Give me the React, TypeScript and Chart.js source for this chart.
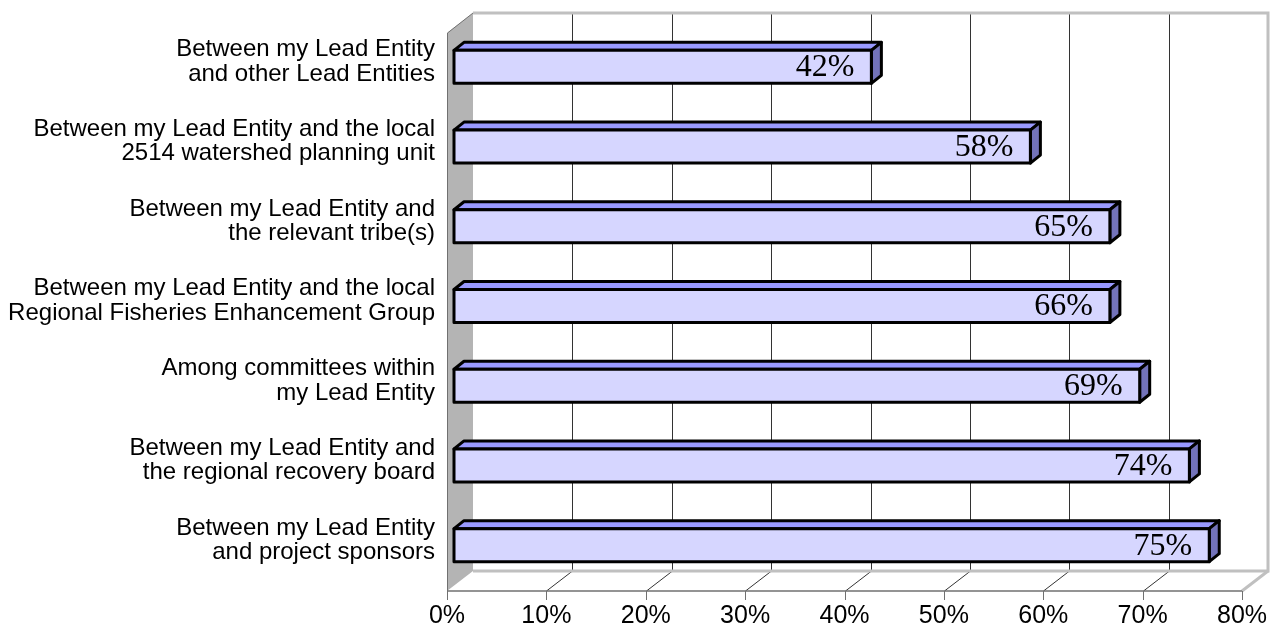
import React, { useEffect, useRef } from "react";
import { Chart, registerables } from "chart.js";

Chart.register(...registerables);

const categories: string[][] = [
  ["Between my Lead Entity", "and other Lead Entities"],
  ["Between my Lead Entity and the local", "2514 watershed planning unit"],
  ["Between my Lead Entity and", "the relevant tribe(s)"],
  ["Between my Lead Entity and the local", "Regional Fisheries Enhancement Group"],
  ["Among committees within", "my Lead Entity"],
  ["Between my Lead Entity and", "the regional recovery board"],
  ["Between my Lead Entity", "and project sponsors"],
];
const barValues: number[] = [42, 58, 66, 66, 69, 74, 76];
const valueLabels: string[] = ["42%", "58%", "65%", "66%", "69%", "74%", "75%"];
const xMin = 0;
const xMax = 80;
const xStep = 10;

const FRONT_FILL = "#D6D6FF";
const TOP_FILL = "#9999FF";
const SIDE_FILL = "#7373BA";
const WALL_FILL = "#B4B4B4";
const WALL_EDGE = "#C0C0C0";
const GRID_COLOR = "#333333";
const AXIS_COLOR = "#707070";

// oblique 3D offsets (pixels)
const WALL_DX = 26;
const WALL_DY = -20;
const BAR_DX = 7;
const BAR_DY = -6;
const DEPTH_DX = 10;
const DEPTH_DY = -8;

const threeD = {
  id: "threeD",
  beforeDraw(chart: any) {
    const ctx = chart.ctx;
    const xs = chart.scales.x;
    const { left, right, top, bottom } = chart.chartArea;
    const bTop = top + WALL_DY;
    const bBottom = bottom + WALL_DY;
    ctx.save();
    // back wall
    ctx.fillStyle = "#FFFFFF";
    ctx.fillRect(left + WALL_DX, bTop, right - left, bBottom - bTop);
    // left wall
    ctx.beginPath();
    ctx.moveTo(left, top);
    ctx.lineTo(left + WALL_DX, bTop);
    ctx.lineTo(left + WALL_DX, bBottom);
    ctx.lineTo(left, bottom);
    ctx.closePath();
    ctx.fillStyle = WALL_FILL;
    ctx.fill();
    // gridlines on back wall and floor
    ctx.strokeStyle = GRID_COLOR;
    ctx.lineWidth = 1;
    for (let v = xMin + xStep; v < xMax; v += xStep) {
      const px = Math.round(xs.getPixelForValue(v)) + 0.5;
      ctx.beginPath();
      ctx.moveTo(px + WALL_DX, bTop);
      ctx.lineTo(px + WALL_DX, bBottom);
      ctx.stroke();
      ctx.beginPath();
      ctx.moveTo(px, bottom);
      ctx.lineTo(px + WALL_DX, bBottom);
      ctx.stroke();
    }
    // back wall and floor edges
    ctx.strokeStyle = WALL_EDGE;
    ctx.lineWidth = 3;
    ctx.beginPath();
    ctx.moveTo(left + WALL_DX, bTop);
    ctx.lineTo(right + WALL_DX, bTop);
    ctx.lineTo(right + WALL_DX, bBottom);
    ctx.lineTo(left + WALL_DX, bBottom);
    ctx.stroke();
    ctx.beginPath();
    ctx.moveTo(right + WALL_DX, bBottom);
    ctx.lineTo(right, bottom);
    ctx.stroke();
    // left wall outline
    ctx.strokeStyle = AXIS_COLOR;
    ctx.lineWidth = 1;
    ctx.beginPath();
    ctx.moveTo(left + WALL_DX, bTop);
    ctx.lineTo(left + 0.5, top);
    ctx.lineTo(left + 0.5, bottom);
    ctx.stroke();
    // axis line and ticks
    ctx.lineWidth = 1.5;
    ctx.beginPath();
    ctx.moveTo(left, bottom);
    ctx.lineTo(right, bottom);
    ctx.stroke();
    ctx.lineWidth = 1;
    for (let v = xMin; v <= xMax; v += xStep) {
      const px = Math.round(xs.getPixelForValue(v)) + 0.5;
      ctx.beginPath();
      ctx.moveTo(px, bottom);
      ctx.lineTo(px, bottom + 9);
      ctx.stroke();
    }
    ctx.restore();
  },
  afterDatasetsDraw(chart: any) {
    const ctx = chart.ctx;
    const meta = chart.getDatasetMeta(0);
    ctx.save();
    meta.data.forEach((el: any, i: number) => {
      const p = el.getProps(["x", "y", "base", "height"], true);
      const x0 = p.base + BAR_DX;
      const x1 = p.x + BAR_DX;
      const yc = p.y + BAR_DY;
      const t = yc - p.height / 2;
      const b = yc + p.height / 2;
      ctx.lineWidth = 3;
      ctx.lineJoin = "round";
      ctx.strokeStyle = "#000000";
      // top face
      ctx.beginPath();
      ctx.moveTo(x0, t);
      ctx.lineTo(x0 + DEPTH_DX, t + DEPTH_DY);
      ctx.lineTo(x1 + DEPTH_DX, t + DEPTH_DY);
      ctx.lineTo(x1, t);
      ctx.closePath();
      ctx.fillStyle = TOP_FILL;
      ctx.fill();
      ctx.stroke();
      // side face
      ctx.beginPath();
      ctx.moveTo(x1, t);
      ctx.lineTo(x1 + DEPTH_DX, t + DEPTH_DY);
      ctx.lineTo(x1 + DEPTH_DX, b + DEPTH_DY);
      ctx.lineTo(x1, b);
      ctx.closePath();
      ctx.fillStyle = SIDE_FILL;
      ctx.fill();
      ctx.stroke();
      // front face
      ctx.beginPath();
      ctx.rect(x0, t, x1 - x0, b - t);
      ctx.fillStyle = FRONT_FILL;
      ctx.fill();
      ctx.stroke();
      // value label
      ctx.fillStyle = "#000000";
      ctx.font = '32px "Liberation Serif", "Times New Roman", serif';
      ctx.textAlign = "right";
      ctx.textBaseline = "middle";
      ctx.fillText(valueLabels[i], x1 - 17, yc + 1);
    });
    ctx.restore();
  },
};

export default function App() {
  const canvasRef = useRef<HTMLCanvasElement | null>(null);
  useEffect(() => {
    if (!canvasRef.current) return;
    const chart = new Chart(canvasRef.current, {
      type: "bar",
      data: {
        labels: categories,
        datasets: [
          {
            data: barValues,
            backgroundColor: "rgba(0,0,0,0)",
            borderWidth: 0,
            categoryPercentage: 1,
            barPercentage: 0.414,
          },
        ],
      },
      options: {
        indexAxis: "y",
        responsive: false,
        animation: false,
        events: [],
        layout: { padding: { top: 33, right: 34, left: 0, bottom: 0 } },
        plugins: {
          legend: { display: false },
          tooltip: { enabled: false },
          title: { display: false },
        },
        scales: {
          x: {
            type: "linear",
            min: xMin,
            max: xMax,
            grid: { display: false },
            border: { display: false },
            ticks: {
              stepSize: xStep,
              color: "#000000",
              padding: 2,
              maxRotation: 0,
              font: { family: '"Liberation Sans", Arial, sans-serif', size: 25 },
              callback: (v: any) => v + "%",
            },
            afterFit: (s: any) => {
              s.height = 46;
              s.paddingLeft = 0;
              s.paddingRight = 0;
              s.paddingTop = 0;
              s.paddingBottom = 0;
            },
          },
          y: {
            type: "category",
            grid: { display: false },
            border: { display: false },
            ticks: {
              color: "#000000",
              padding: 4,
              labelOffset: -11,
              font: { family: '"Liberation Sans", Arial, sans-serif', size: 24, lineHeight: 1.02 },
            },
            afterFit: (s: any) => {
              s.width = 447;
              s.paddingLeft = 0;
              s.paddingRight = 0;
              s.paddingTop = 0;
              s.paddingBottom = 0;
            },
          },
        },
      },
      plugins: [threeD],
    } as any);
    return () => chart.destroy();
  }, []);
  return (
    <canvas
      ref={canvasRef}
      width={1276}
      height={637}
      style={{ position: "absolute", left: 0, top: 0, display: "block" }}
    />
  );
}
